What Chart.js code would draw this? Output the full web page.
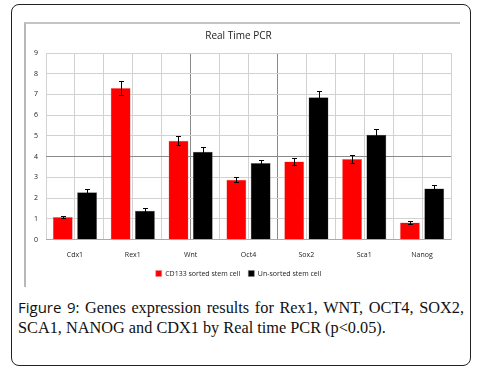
<!DOCTYPE html>
<html>
<head>
<meta charset="utf-8">
<script src="https://cdn.jsdelivr.net/npm/chart.js@4.4.0/dist/chart.umd.min.js"></script>
<style>
  body { margin: 0; background: #fff; width: 486px; height: 374px; position: relative; overflow: hidden; }
  #frame { position: absolute; left: 11px; top: 4px; width: 458px; height: 360px; border: 1.5px solid #222; border-radius: 8px; }
  #chartBox { position: absolute; left: 24px; top: 22px; width: 434px; height: 263px; border-top: 2px solid #c4c4c4; border-left: 2px solid #b8b8b8; }
  #caption { position: absolute; left: 18px; top: 298px; width: 446px; font-family: "Liberation Serif", serif; font-size: 16.3px; line-height: 19.5px; color: #111; text-align: justify; text-align-last: left; }
  #caption .lead { font-family: "Open Sans", "Noto Sans", sans-serif; font-size: 15px; }
</style>
</head>
<body>
<div id="frame"></div>
<div id="chartBox"><canvas id="pcrChart" width="434" height="263"></canvas></div>
<div id="caption"><span class="lead">Figure 9:</span> Genes expression results for Rex1, WNT, OCT4, SOX2, SCA1, NANOG and CDX1 by Real time PCR (p&lt;0.05).</div>
<script>
const genes = ['Cdx1', 'Rex1', 'Wnt', 'Oct4', 'Sox2', 'Sca1', 'Nanog'];
const sortedValues = [1.09, 7.31, 4.77, 2.89, 3.77, 3.89, 0.83];
const sortedErrors = [0.05, 0.35, 0.23, 0.13, 0.18, 0.2, 0.06];
const unsortedValues = [2.28, 1.39, 4.24, 3.69, 6.86, 5.06, 2.46];
const unsortedErrors = [0.15, 0.12, 0.22, 0.17, 0.33, 0.28, 0.15];
const yTicks = [0, 1, 2, 3, 4, 5, 6, 7, 8, 9];

const errorLists = [sortedErrors, unsortedErrors];

// error bars, drawn from the y scale
const errorBars = {
    id: 'errorBars',
    afterDatasetsDraw(chart) {
        const ctx = chart.ctx;
        const y = chart.scales.y;
        ctx.save();
        ctx.strokeStyle = '#000';
        ctx.lineWidth = 1;
        chart.data.datasets.forEach((ds, i) => {
            const meta = chart.getDatasetMeta(i);
            meta.data.forEach((bar, j) => {
                const v = ds.data[j];
                const e = errorLists[i][j];
                const top = Math.round(y.getPixelForValue(v + e)) + 0.5;
                const bottom = Math.round(y.getPixelForValue(v - e)) + 0.5;
                const x = Math.round(bar.x) + 0.5;
                ctx.beginPath();
                ctx.moveTo(x, top); ctx.lineTo(x, bottom);
                ctx.moveTo(x - 2.5, top); ctx.lineTo(x + 2.5, top);
                ctx.moveTo(x - 2.5, bottom); ctx.lineTo(x + 2.5, bottom);
                ctx.stroke();
            });
        });
        ctx.restore();
    }
};

const tickFont = { family: '"Open Sans", "Noto Sans", sans-serif', size: 7 };
const tickVal = c => (c.tick ? c.tick.value : -1);

// vertical grid: one line per category edge and centre
const halfSteps = genes.length * 2;

new Chart(document.querySelector('#pcrChart').getContext('2d'), {
    type: 'bar',
    data: {
        labels: genes,
        datasets: [{
            label: 'CD133 sorted stem cell',
            data: sortedValues,
            backgroundColor: '#ff0000',
            borderColor: '#e88',
            borderWidth: 0.5
        }, {
            label: 'Un-sorted stem cell',
            data: unsortedValues,
            backgroundColor: '#000000',
            borderColor: '#777',
            borderWidth: 0.5
        }]
    },
    options: {
        responsive: false,
        animation: false,
        categoryPercentage: 0.84,
        barPercentage: 0.82,
        layout: { padding: { left: 0, right: 9, top: 0, bottom: 0 } },
        scales: {
            x: {
                grid: { display: false },
                border: { display: false },
                ticks: { color: '#222', font: tickFont, padding: 3 }
            },
            xg: {
                type: 'linear',
                position: 'bottom',
                min: 0,
                max: halfSteps,
                offset: false,
                afterBuildTicks: axis => {
                    axis.ticks = Array.from({ length: halfSteps + 1 }, (_, k) => ({ value: k }));
                },
                ticks: { display: false, padding: 0 },
                grid: {
                    offset: false,
                    drawTicks: false,
                    color: c => (tickVal(c) === 5 || tickVal(c) === 8) ? '#8a8a8a' : '#d2d2d2'
                },
                border: { display: false }
            },
            y: {
                min: 0,
                max: 9,
                afterBuildTicks: axis => { axis.ticks = yTicks.map(v => ({ value: v })); },
                grid: {
                    drawTicks: false,
                    color: c => tickVal(c) === 4 ? '#8a8a8a' : (tickVal(c) === 0 ? '#aaa' : '#d2d2d2')
                },
                border: { display: false },
                ticks: { color: '#222', font: tickFont, padding: 8 }
            }
        },
        plugins: {
            title: {
                display: true,
                text: 'Real Time PCR',
                color: '#222',
                font: { family: '"Open Sans", "Noto Sans", sans-serif', size: 10, weight: 'normal' },
                padding: { top: 6, bottom: 11 }
            },
            legend: {
                position: 'bottom',
                labels: { boxWidth: 6, boxHeight: 6, padding: 8, color: '#222', font: tickFont }
            },
            tooltip: { enabled: false }
        }
    },
    plugins: [errorBars]
});
</script>
</body>
</html>
